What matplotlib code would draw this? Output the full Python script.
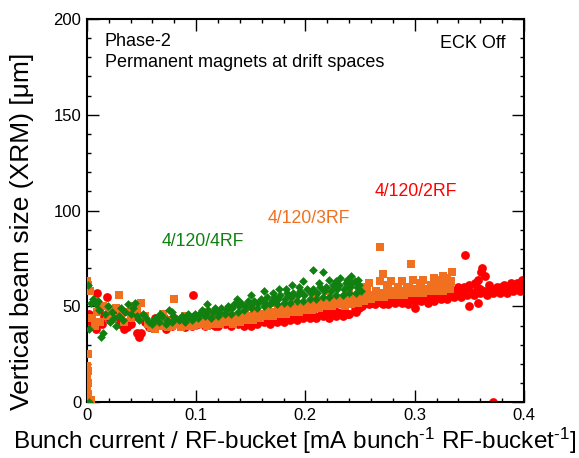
import numpy as np
import matplotlib
matplotlib.use('Agg')
import matplotlib.pyplot as plt
from matplotlib.ticker import MultipleLocator, FuncFormatter

plt.rcParams['font.family'] = ['Liberation Sans', 'DejaVu Sans']
plt.rcParams['mathtext.fontset'] = 'custom'
plt.rcParams['mathtext.rm'] = 'Liberation Sans'
plt.rcParams['mathtext.default'] = 'regular'

# series data (bunch current / RF-bucket, vertical beam size um)
red_pts = [
    # low current scatter
    (0.002, 46), (0.004, 42), (0.008, 38), (0.009, 57), (0.011, 48), (0.014, 41),
    (0.016, 45), (0.018, 55), (0.021, 43), (0.024, 47), (0.027, 44), (0.030, 41),
    (0.034, 38), (0.037, 39), (0.040, 41), (0.043, 45), (0.046, 36), (0.048, 34),
    (0.050, 36), (0.053, 42), (0.057, 39),
    # lower edge
    (0.060, 40), (0.066, 41), (0.072, 38), (0.078, 40), (0.084, 41), (0.090, 39),
    (0.096, 40), (0.102, 41), (0.108, 40), (0.114, 41), (0.120, 40), (0.126, 41),
    (0.132, 40), (0.138, 41), (0.144, 40), (0.150, 40), (0.156, 41), (0.162, 42),
    (0.168, 41), (0.174, 42), (0.180, 42), (0.186, 43), (0.192, 43), (0.198, 44),
    (0.204, 44), (0.210, 44), (0.216, 45), (0.222, 44), (0.228, 45), (0.234, 45),
    (0.240, 46), (0.246, 47), (0.252, 50), (0.258, 51), (0.264, 51), (0.270, 52),
    (0.276, 51), (0.282, 52), (0.288, 52), (0.294, 51), (0.300, 53), (0.306, 53),
    (0.312, 52), (0.318, 53), (0.324, 54), (0.330, 54), (0.336, 55), (0.342, 55),
    (0.348, 56), (0.354, 56), (0.360, 57), (0.366, 56), (0.372, 57), (0.378, 57),
    (0.384, 57), (0.390, 58), (0.396, 58), (0.399, 59),
    # in-between
    (0.063, 41), (0.069, 43), (0.081, 42), (0.087, 40), (0.093, 43), (0.099, 42),
    (0.111, 43), (0.117, 40), (0.123, 42), (0.129, 42), (0.141, 43), (0.147, 41),
    (0.153, 42), (0.159, 43), (0.171, 43), (0.179, 43), (0.189, 44), (0.199, 46),
    (0.209, 45), (0.219, 47), (0.229, 47), (0.239, 46), (0.249, 49), (0.256, 52),
    (0.262, 52), (0.268, 53), (0.278, 53), (0.286, 53), (0.296, 54), (0.304, 54),
    (0.314, 54), (0.322, 56), (0.328, 57), (0.338, 56), (0.344, 58), (0.352, 57),
    (0.357, 60), (0.363, 58), (0.367, 58), (0.374, 58), (0.379, 60), (0.386, 59),
    (0.392, 61), (0.396, 60), (0.400, 63),
    # middle
    (0.065, 43), (0.075, 42), (0.085, 43), (0.095, 42), (0.105, 43), (0.115, 42),
    (0.125, 43), (0.135, 42), (0.145, 42), (0.155, 43), (0.165, 44), (0.175, 44),
    (0.185, 45), (0.195, 45), (0.205, 46), (0.215, 46), (0.225, 46), (0.235, 47),
    (0.245, 48), (0.250, 52), (0.260, 53), (0.270, 54), (0.280, 54), (0.290, 54),
    (0.300, 55), (0.310, 55), (0.320, 55), (0.330, 56), (0.340, 57), (0.350, 58),
    (0.360, 59), (0.370, 59), (0.380, 59), (0.390, 60), (0.397, 61),
    # upper edge
    (0.062, 44), (0.070, 45), (0.080, 44), (0.090, 45), (0.097, 56), (0.100, 44),
    (0.110, 45), (0.120, 45), (0.130, 44), (0.140, 45), (0.150, 44), (0.160, 45),
    (0.170, 46), (0.176, 47), (0.185, 46), (0.195, 47), (0.205, 48), (0.215, 47),
    (0.225, 48), (0.235, 48), (0.245, 50), (0.255, 54), (0.265, 55), (0.275, 55),
    (0.285, 56), (0.295, 56), (0.305, 57), (0.315, 57), (0.325, 58), (0.335, 58),
    (0.340, 60), (0.345, 60), (0.350, 61), (0.355, 62), (0.358, 64), (0.361, 68),
    (0.362, 70), (0.364, 66), (0.368, 61), (0.375, 60), (0.382, 61), (0.388, 62),
    (0.394, 62), (0.398, 64), (0.400, 61),
    # outliers
    (0.346, 77), (0.350, 50), (0.358, 52), (0.372, 0), (0.271, 51), (0.300, 49),
]

orange_pts = [
    # near zero current
    (0.000, 0), (0.002, 0), (0.004, 1), (0.001, 4), (0.000, 7), (0.001, 10),
    (0.000, 13), (0.001, 16), (0.000, 19), (0.001, 25), (0.000, 63), (0.001, 61),
    (0.003, 58),
    # low current scatter
    (0.005, 44), (0.007, 40), (0.009, 47), (0.012, 42), (0.015, 50), (0.018, 45),
    (0.021, 48), (0.024, 44), (0.027, 49), (0.029, 56), (0.031, 46), (0.034, 42),
    (0.037, 47), (0.040, 44), (0.043, 50), (0.046, 48), (0.050, 52), (0.053, 45),
    (0.056, 41), (0.059, 39),
    # lower edge
    (0.062, 38), (0.068, 40), (0.074, 39), (0.080, 41), (0.086, 39), (0.092, 40),
    (0.098, 40), (0.104, 41), (0.110, 40), (0.116, 41), (0.122, 41), (0.128, 42),
    (0.134, 41), (0.140, 42), (0.146, 43), (0.152, 43), (0.158, 44), (0.164, 45),
    (0.170, 45), (0.176, 46), (0.182, 46), (0.188, 47), (0.194, 47), (0.200, 48),
    (0.206, 48), (0.212, 49), (0.218, 50), (0.224, 50), (0.230, 51), (0.236, 50),
    (0.242, 51), (0.248, 52), (0.254, 53), (0.260, 54), (0.266, 55), (0.272, 55),
    (0.278, 56), (0.284, 56), (0.290, 56), (0.296, 57), (0.302, 57), (0.308, 57),
    (0.314, 58), (0.320, 58), (0.326, 58), (0.332, 59),
    # in-between
    (0.064, 40), (0.071, 42), (0.078, 40), (0.083, 43), (0.089, 41), (0.101, 42),
    (0.107, 42), (0.113, 43), (0.119, 43), (0.131, 43), (0.137, 44), (0.143, 44),
    (0.149, 45), (0.161, 46), (0.167, 47), (0.173, 47), (0.179, 48), (0.191, 49),
    (0.197, 50), (0.203, 50), (0.209, 51), (0.221, 52), (0.227, 52), (0.233, 53),
    (0.239, 53), (0.251, 55), (0.257, 55), (0.263, 56), (0.269, 57), (0.281, 58),
    (0.287, 58), (0.293, 59), (0.299, 59), (0.311, 59), (0.317, 60), (0.323, 60),
    (0.329, 61), (0.256, 60), (0.276, 61), (0.306, 62), (0.322, 64), (0.330, 65),
    # middle
    (0.065, 42), (0.075, 43), (0.085, 42), (0.095, 43), (0.105, 44), (0.115, 44),
    (0.125, 45), (0.135, 45), (0.145, 46), (0.155, 47), (0.165, 48), (0.175, 49),
    (0.185, 50), (0.195, 51), (0.205, 52), (0.215, 53), (0.225, 54), (0.235, 54),
    (0.245, 55), (0.255, 57), (0.265, 58), (0.275, 59), (0.285, 60), (0.295, 60),
    (0.305, 61), (0.315, 61), (0.325, 62), (0.333, 63),
    # upper edge
    (0.070, 46), (0.080, 54), (0.090, 45), (0.110, 47), (0.130, 48), (0.150, 50),
    (0.170, 52), (0.190, 54), (0.210, 56), (0.220, 58), (0.240, 58), (0.250, 60),
    (0.258, 62), (0.268, 63), (0.278, 63), (0.288, 63), (0.298, 64), (0.308, 64),
    (0.318, 65), (0.326, 66), (0.334, 68),
    # outliers
    (0.268, 81), (0.271, 67), (0.297, 72),
]

green_pts = [
    # low current scatter
    (0.001, 61), (0.002, 0), (0.002, 38), (0.004, 52), (0.006, 54), (0.008, 51),
    (0.010, 53), (0.011, 48), (0.013, 34), (0.015, 36), (0.017, 46), (0.019, 50),
    (0.021, 42), (0.023, 47), (0.025, 44), (0.027, 40), (0.029, 45), (0.031, 49),
    (0.033, 43), (0.035, 47), (0.038, 51), (0.040, 46), (0.042, 49), (0.044, 52),
    (0.046, 45), (0.048, 43), (0.051, 46), (0.054, 44), (0.057, 42),
    # lower edge
    (0.060, 41), (0.066, 42), (0.072, 41), (0.078, 42), (0.084, 43), (0.090, 42),
    (0.096, 43), (0.102, 44), (0.108, 45), (0.114, 44), (0.120, 45), (0.126, 46),
    (0.132, 46), (0.138, 47), (0.144, 48), (0.150, 49), (0.156, 49), (0.162, 50),
    (0.168, 51), (0.174, 51), (0.180, 52), (0.186, 52), (0.192, 53), (0.198, 53),
    (0.204, 54), (0.210, 54), (0.216, 55), (0.222, 55), (0.228, 56), (0.234, 56),
    (0.240, 57), (0.246, 57), (0.251, 58),
    # in-between
    (0.061, 43), (0.067, 46), (0.073, 43), (0.079, 45), (0.085, 44), (0.091, 44),
    (0.097, 45), (0.103, 46), (0.109, 46), (0.115, 47), (0.121, 47), (0.127, 48),
    (0.133, 49), (0.139, 50), (0.145, 50), (0.151, 51), (0.157, 52), (0.163, 52),
    (0.169, 53), (0.175, 54), (0.181, 54), (0.187, 55), (0.193, 56), (0.199, 56),
    (0.205, 57), (0.211, 57), (0.217, 58), (0.223, 58), (0.229, 59), (0.235, 59),
    (0.241, 60), (0.247, 60), (0.170, 57), (0.182, 59), (0.194, 60), (0.212, 62),
    (0.228, 63), (0.238, 64), (0.245, 63),
    # middle
    (0.063, 44), (0.069, 45), (0.075, 48), (0.081, 44), (0.087, 45), (0.093, 46),
    (0.099, 46), (0.105, 48), (0.111, 48), (0.117, 49), (0.123, 49), (0.129, 50),
    (0.135, 51), (0.141, 52), (0.147, 53), (0.153, 53), (0.159, 54), (0.165, 55),
    (0.171, 55), (0.177, 56), (0.183, 57), (0.189, 57), (0.195, 58), (0.201, 59),
    (0.207, 59), (0.213, 60), (0.219, 60), (0.225, 61), (0.231, 61), (0.237, 62),
    (0.243, 62), (0.249, 61),
    # upper edge
    (0.078, 47), (0.110, 51), (0.137, 54), (0.150, 56), (0.162, 58), (0.176, 59),
    (0.188, 61), (0.198, 63), (0.207, 69), (0.216, 68), (0.222, 64), (0.232, 65),
    (0.242, 66), (0.248, 64),
]

series_labels = ['4/120/2RF', '4/120/3RF', '4/120/4RF']
series_colors = ['#FF0000', '#F07020', '#108010']

red = np.array(red_pts)
orange = np.array(orange_pts)
green = np.array(green_pts)

fig = plt.figure(figsize=(5.79, 4.58), dpi=100)
ax = fig.add_axes([0.150, 0.122, 0.755, 0.8365])

ax.scatter(red[:, 0], red[:, 1], s=40, marker='o', color=series_colors[0],
           linewidths=0, zorder=2)
ax.scatter(orange[:, 0], orange[:, 1], s=30, marker='s', color=series_colors[1],
           linewidths=0, zorder=3)
ax.scatter(green[:, 0], green[:, 1], s=20, marker='D', color=series_colors[2],
           linewidths=0, zorder=4)

ax.set_xlim(0, 0.4)
ax.set_ylim(0, 200)
ax.xaxis.set_major_locator(MultipleLocator(0.1))
ax.xaxis.set_minor_locator(MultipleLocator(0.02))
ax.yaxis.set_major_locator(MultipleLocator(50))
ax.yaxis.set_minor_locator(MultipleLocator(10))
ax.xaxis.set_major_formatter(FuncFormatter(lambda v, p: '0' if abs(v) < 1e-9 else '%g' % v))
ax.tick_params(which='both', direction='in', top=True, right=True,
               labelsize=12, width=1)
ax.tick_params(which='major', length=8.5, pad=4)
ax.tick_params(which='minor', length=3)
for sp in ax.spines.values():
    sp.set_linewidth(1.5)

fig.text(294.5 / 579, 1 - 441 / 458,
         'Bunch current / RF-bucket [mA bunch$^{\\text{-1}}$ RF-bucket$^{\\text{-1}}$]',
         fontsize=17.5, ha='center', va='center')
fig.text(22 / 579, 1 - 231 / 458, 'Vertical beam size (XRM) [\u03bcm]',
         fontsize=19, rotation=90, ha='center', va='center')

ax.text(0.0165, 186, 'Phase-2', fontsize=13, va='baseline')
ax.text(0.0165, 175, 'Permanent magnets at drift spaces', fontsize=13, va='baseline')
ax.text(0.383, 185, 'ECK Off', fontsize=13, ha='right', va='baseline')

ax.text(0.263, 107.5, series_labels[0], color=series_colors[0], fontsize=12.7,
        va='baseline')
ax.text(0.165, 93.5, series_labels[1], color=series_colors[1], fontsize=12.7,
        va='baseline')
ax.text(0.068, 81.5, series_labels[2], color=series_colors[2], fontsize=12.7,
        va='baseline')

fig.savefig('out.png', dpi=100)
